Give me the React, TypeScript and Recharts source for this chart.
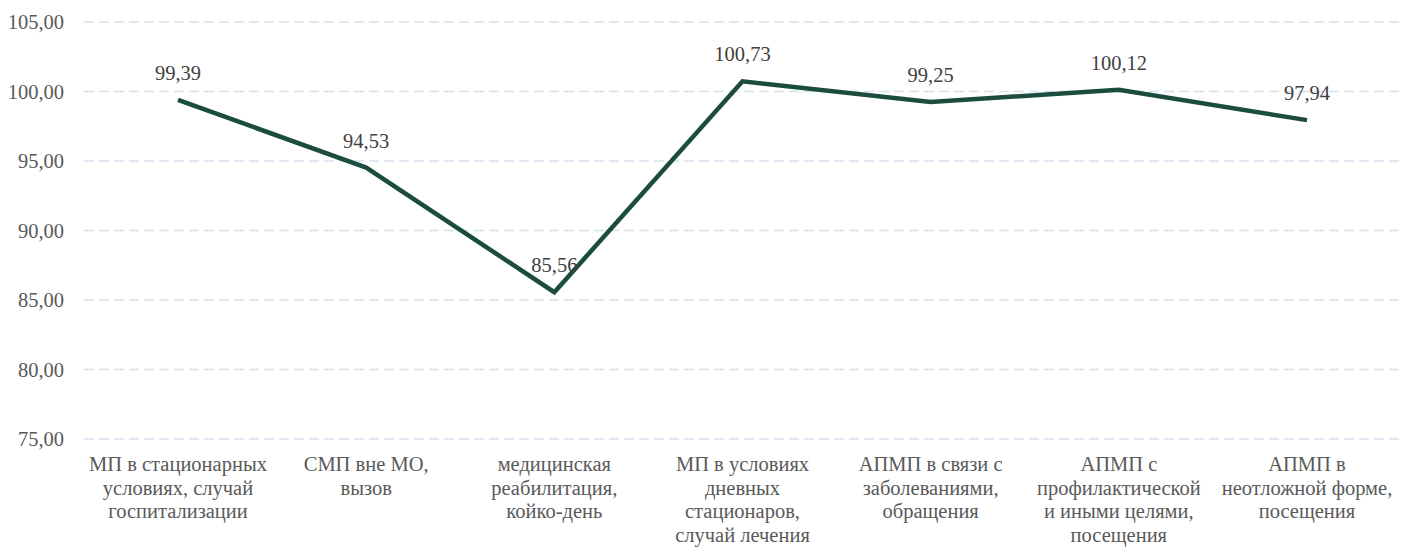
import React from "react";
import { LineChart, Line, XAxis, YAxis, CartesianGrid, LabelList } from "recharts";

const categories = [
  "МП в стационарных\nусловиях, случай\nгоспитализации",
  "СМП вне МО,\nвызов",
  "медицинская\nреабилитация,\nкойко-день",
  "МП в условиях\nдневных\nстационаров,\nслучай лечения",
  "АПМП в связи с\nзаболеваниями,\nобращения",
  "АПМП с\nпрофилактической\nи иными целями,\nпосещения",
  "АПМП в\nнеотложной форме,\nпосещения",
];

const values = [99.39, 94.53, 85.56, 100.73, 99.25, 100.12, 97.94];

const yTicks = [75, 80, 85, 90, 95, 100, 105];

const FONT = '"Liberation Serif", "Times New Roman", serif';

const fmt = (v: number) => v.toFixed(2).replace(".", ",");

function CategoryTick(props: any) {
  const { x, y, payload } = props;
  const lines = String(payload.value).split("\n");
  return (
    <text x={x} y={y} textAnchor="middle" fill="#595959" fontFamily={FONT} fontSize={20.5}>
      {lines.map((l, i) => (
        <tspan key={i} x={x} dy={i === 0 ? 24 : 23.5}>
          {l}
        </tspan>
      ))}
    </text>
  );
}

export default function App() {
  const data = categories.map((c, i) => ({ name: c, value: values[i] }));

  return (
    <div style={{ position: "absolute", left: 0, top: 0, background: "#fff" }}>
      <LineChart
        width={1401}
        height={547}
        data={data}
        margin={{ top: 22, right: 0, left: 0, bottom: 8 }}
      >
        <CartesianGrid vertical={false} stroke="#d3e2ef" strokeDasharray="10 5" strokeWidth={1.5} />
        <XAxis
          dataKey="name"
          interval={0}
          axisLine={false}
          tickLine={false}
          height={100}
          padding={{ left: 94, right: 94 }}
          tick={<CategoryTick />}
        />
        <YAxis
          domain={[75, 105]}
          ticks={yTicks}
          axisLine={false}
          tickLine={false}
          width={84}
          tickMargin={14}
          tickFormatter={fmt}
          tick={{ fill: "#595959", fontFamily: FONT, fontSize: 20.5 }}
        />
        <Line
          type="linear"
          dataKey="value"
          stroke="#1b4d3e"
          strokeWidth={4.5}
          dot={false}
          activeDot={false}
          isAnimationActive={false}
        >
          <LabelList
            dataKey="value"
            position="top"
            offset={20}
            formatter={(v: any) => fmt(Number(v))}
            fill="#404040"
            fontFamily={FONT}
            fontSize={20.5}
          />
        </Line>
      </LineChart>
    </div>
  );
}
